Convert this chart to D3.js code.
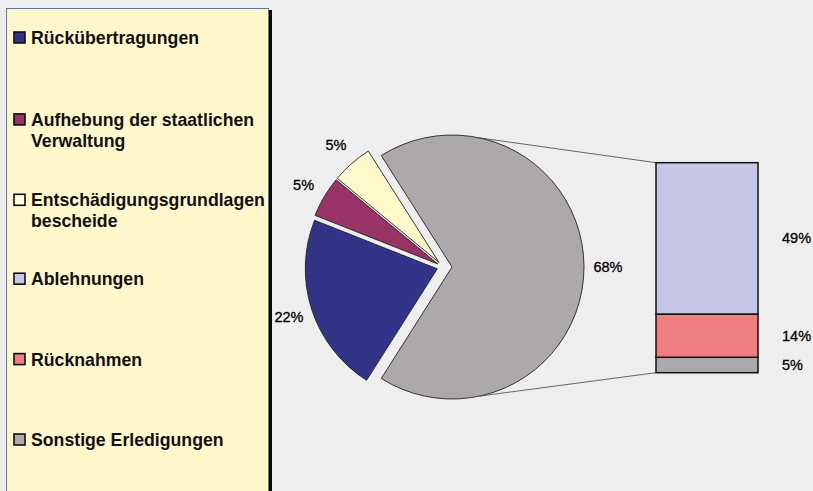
<!DOCTYPE html>
<html>
<head>
<meta charset="utf-8">
<script src="https://cdn.jsdelivr.net/npm/d3@7"></script>
<style>
  html, body { margin: 0; padding: 0; background: #eeeeee; }
  svg { display: block; font-family: "Liberation Sans", Arial, sans-serif; }
</style>
</head>
<body>
<svg id="chart" width="813" height="491"></svg>
<script>
// Pie part: the last entry is the combined slice that the bar breaks down
const pieCategories = ["Rückübertragungen", "Aufhebung der staatlichen Verwaltung", "Entschädigungsgrundlagenbescheide", "Sonstige"];
const pieValues = [22, 5, 5, 68];
const pieColors = ["#333388", "#993366", "#fff9cc", "#aca8ac"];

// Bar part: breakdown of the combined slice, bottom to top
const barCategories = ["Sonstige Erledigungen", "Rücknahmen", "Ablehnungen"];
const barValues = [5, 14, 49];
const barColors = ["#aca8ac", "#f07e7e", "#c6c6e6"];

// Legend entries (text lines) and marker colours
const legendItems = [
  { lines: ["Rückübertragungen"], color: "#333388" },
  { lines: ["Aufhebung der staatlichen", "Verwaltung"], color: "#993366" },
  { lines: ["Entschädigungsgrundlagen", "bescheide"], color: "#fffbe0" },
  { lines: ["Ablehnungen"], color: "#c6c6e6" },
  { lines: ["Rücknahmen"], color: "#f07e7e" },
  { lines: ["Sonstige Erledigungen"], color: "#aca8ac" }
];

const svg = d3.select("#chart");

// ---- legend panel ----
const lg = svg.append("g");
lg.append("rect").attr("x", 268).attr("y", 10).attr("width", 4).attr("height", 500).attr("fill", "#0a0a0a");
lg.append("rect").attr("x", 6.5).attr("y", 8.5).attr("width", 262).attr("height", 500)
  .attr("fill", "#fff8cc").attr("stroke", "#5a7aa2").attr("stroke-width", 1);

legendItems.forEach((it, i) => {
  const base = 44 + i * 80.4 + (it.lines.length > 1 ? 1.5 : 0);
  lg.append("rect").attr("x", 14).attr("y", base - 12).attr("width", 11).attr("height", 11)
    .attr("fill", it.color).attr("stroke", "#111").attr("stroke-width", 1.6);
  const t = lg.append("text").attr("x", 31).attr("y", base)
    .attr("font-size", "17.7px").attr("font-weight", "bold").attr("fill", "#111");
  it.lines.forEach((ln, j) => {
    t.append("tspan").attr("x", 31).attr("y", base + j * 21).text(ln);
  });
});

// ---- pie ----
const cx = 443, cy = 267, R = 132;
const total = d3.sum(pieValues);
const other = pieValues[pieValues.length - 1];
const startA = Math.PI / 2 + Math.PI * other / total;   // combined slice centred at 3 o'clock
const pie = d3.pie().sort(null).startAngle(startA).endAngle(startA + 2 * Math.PI);
const arcs = pie(pieValues);
const arcGen = d3.arc().innerRadius(0).outerRadius(R);
const explode = [6, 6, 6, 9];

const labelFont = { size: "14.5px", weight: "normal", fill: "#000" };

const pg = svg.append("g").attr("transform", `translate(${cx},${cy})`);
arcs.forEach((a, i) => {
  const m = (a.startAngle + a.endAngle) / 2;
  const ox = Math.sin(m) * explode[i], oy = -Math.cos(m) * explode[i];
  pg.append("path").attr("d", arcGen(a))
    .attr("transform", `translate(${ox},${oy})`)
    .attr("fill", pieColors[i]).attr("stroke", "#222").attr("stroke-width", 0.9);
  const lr = R + 24;
  pg.append("text")
    .attr("x", ox + Math.sin(m) * lr).attr("y", oy - Math.cos(m) * lr)
    .attr("text-anchor", "middle").attr("dominant-baseline", "central")
    .attr("font-size", labelFont.size).attr("font-weight", labelFont.weight).attr("fill", labelFont.fill)
    .attr("stroke", "#000").attr("stroke-width", 0.3)
    .text(Math.round(pieValues[i] / total * 100) + "%");
});

// ---- stacked bar ----
const barX0 = 656, barW = 102;
const y = d3.scaleLinear().domain([0, d3.sum(barValues)]).range([372.7, 162.7]);
const stacks = [];
let acc = 0;
barValues.forEach(v => { stacks.push([acc, acc + v]); acc += v; });

// connector lines from the combined slice to the bar
const gx = cx + explode[3], gy = cy;
const angTop = 78 * Math.PI / 180;
const bg = svg.append("g");
bg.append("line")
  .attr("x1", gx + R * Math.cos(angTop)).attr("y1", gy - R * Math.sin(angTop))
  .attr("x2", barX0).attr("y2", y(acc))
  .attr("stroke", "#444").attr("stroke-width", 0.8);
bg.append("line")
  .attr("x1", gx + R * Math.cos(angTop)).attr("y1", gy + R * Math.sin(angTop))
  .attr("x2", barX0).attr("y2", y(0))
  .attr("stroke", "#444").attr("stroke-width", 0.8);

stacks.forEach((s, i) => {
  bg.append("rect").attr("x", barX0).attr("width", barW)
    .attr("y", y(s[1])).attr("height", y(s[0]) - y(s[1]))
    .attr("fill", barColors[i]).attr("stroke", "#111").attr("stroke-width", 1.5);
  bg.append("text").attr("x", 782).attr("y", (y(s[0]) + y(s[1])) / 2)
    .attr("dominant-baseline", "central")
    .attr("font-size", labelFont.size).attr("font-weight", labelFont.weight).attr("fill", labelFont.fill)
    .attr("stroke", "#000").attr("stroke-width", 0.3)
    .text(barValues[i] + "%");
});
</script>
</body>
</html>
